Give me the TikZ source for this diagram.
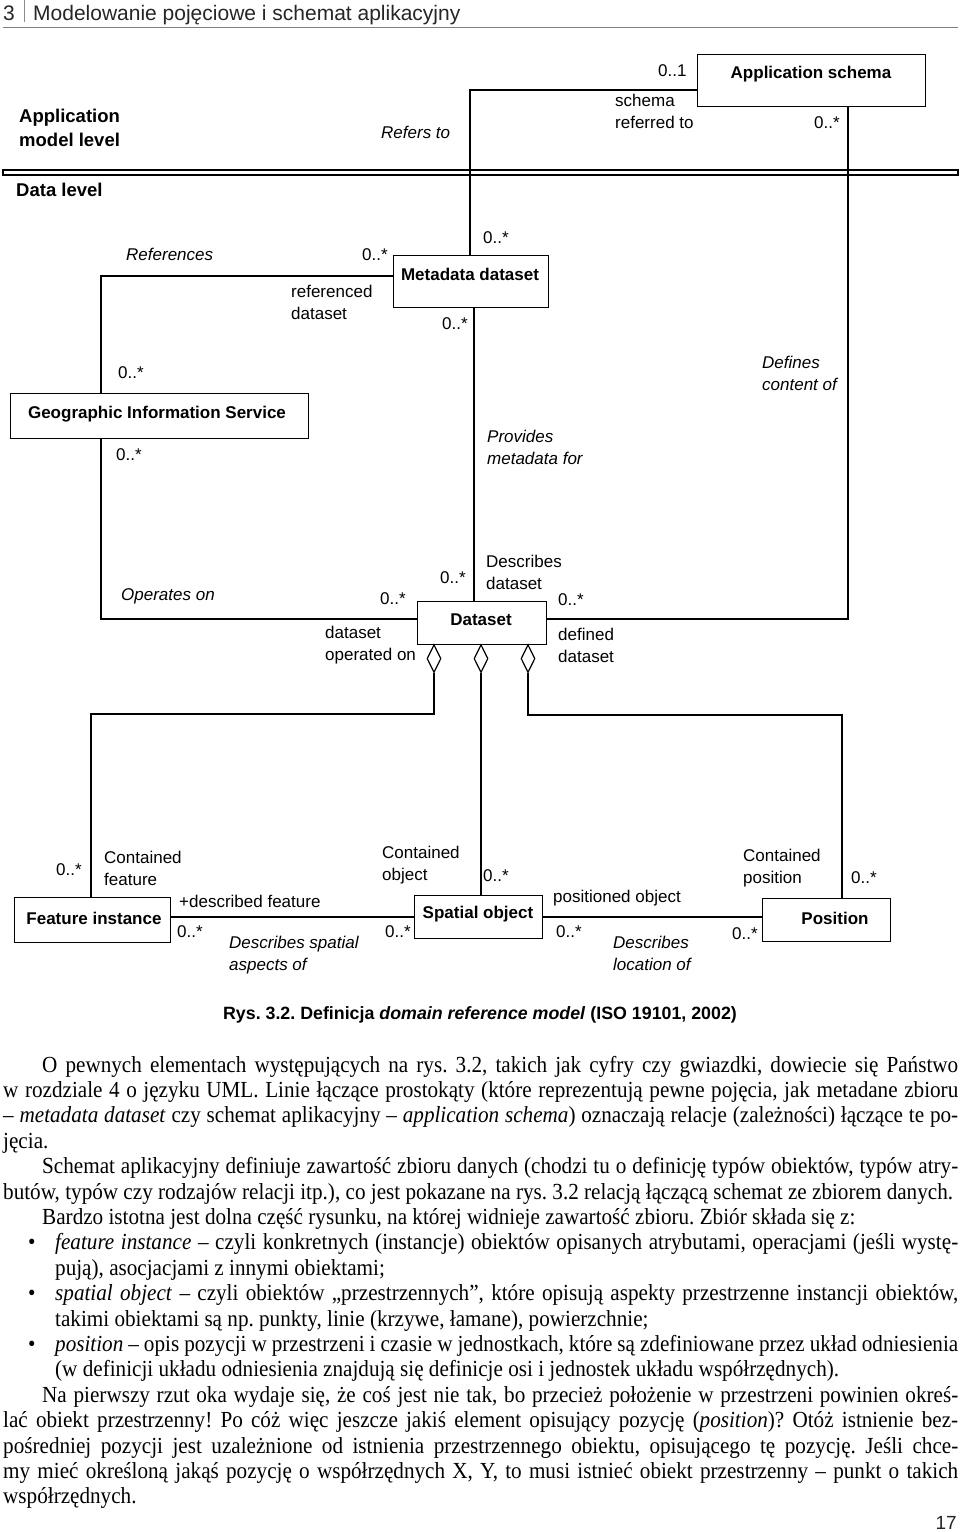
\documentclass[tikz,border=0pt]{standalone}
\usepackage{fontspec}
\setmainfont{Liberation Serif}
\newfontfamily\sansf{Liberation Sans}
\newfontfamily\bodyfont[FakeStretch=0.92]{Liberation Serif}
\newfontfamily\capfont{Liberation Sans}
\usetikzlibrary{shapes.geometric}
\frenchspacing
\begin{document}
\begin{tikzpicture}[x=1pt,y=-1pt,
  box/.style={draw, line width=1.2pt, inner sep=0pt, anchor=north west},
  cls/.style={font=\sansf\bfseries\fontsize{17}{20}\selectfont, inner sep=0pt},
  lvl/.style={font=\sansf\bfseries\fontsize{18.5}{24}\selectfont, inner sep=0pt, anchor=west, align=left},
  lbl/.style={font=\sansf\fontsize{17}{22}\selectfont, inner sep=0pt, anchor=west, align=left},
  ilbl/.style={font=\sansf\itshape\fontsize{17}{22}\selectfont, inner sep=0pt, anchor=west, align=left},
  conn/.style={line width=1.2pt},
  agg/.style={draw, line width=1.2pt, fill=white, diamond, inner sep=0pt, minimum width=14pt, minimum height=28pt, anchor=north},
  body/.style={font=\bodyfont\fontsize{23}{25}\selectfont, inner sep=0pt, anchor=base west}
]
\useasboundingbox (0,0) rectangle (960,1532);
\fill[white] (0,0) rectangle (960,1532);

% header
\node[font=\sansf\fontsize{21}{24}\selectfont, inner sep=0pt, anchor=base west, text=black!85] (hnum) at (3,20) {3};
\draw[black!45, line width=0.8pt] (24,0) -- (24,22);
\node[font=\sansf\fontsize{21}{24}\selectfont, inner sep=0pt, anchor=base west, text=black!85] (htitle) at (33,20) {Modelowanie pojęciowe i schemat aplikacyjny};
\draw[black!50, line width=0.9pt] (3,27.5) -- (958,27.5);

% level separator
\draw[line width=1.1pt] (3,170) rectangle (958,175);
\node[lvl] (aml) at (19,128) {Application\\model level};
\node[lvl] (dl) at (16,190) {Data level};

% boxes
\node[box, minimum width=228pt, minimum height=52pt] (as) at (697,54) {};
\node[cls] (ast) at (811,74) {Application schema};
\node[box, minimum width=155pt, minimum height=52pt] (md) at (393,255) {};
\node[cls] (mdt) at (470,274) {Metadata dataset};
\node[box, minimum width=298pt, minimum height=45pt] (gis) at (10,393) {};
\node[cls] (gist) at (157,414) {Geographic Information Service};
\node[box, minimum width=129pt, minimum height=43pt] (ds) at (417,601) {};
\node[cls] (dst) at (481,620) {Dataset};
\node[box, minimum width=156pt, minimum height=45pt] (fi) at (14,897) {};
\node[cls] (fit) at (94,918) {Feature instance};
\node[box, minimum width=128pt, minimum height=43pt] (so) at (414,895) {};
\node[cls] (sot) at (478,914) {Spatial object};
\node[box, minimum width=128pt, minimum height=43pt] (po) at (762,898) {};
\node[cls] (pot) at (835,918) {Position};

% aggregation diamonds
\node[agg] (d1) at (434,644) {};
\node[agg] (d2) at (481,644) {};
\node[agg] (d3) at (528,644) {};

% connector coordinates
\coordinate (r1) at (470,90);
\coordinate (r2) at (101,276);
\coordinate (r3) at (101,619);
\coordinate (r4) at (474,300);
\coordinate (r5) at (848,619);
\coordinate (r6) at (91,714);
\coordinate (r7) at (842,715);
\coordinate (r8) at (300,917);

% connectors
\draw[conn] (md.north -| r1) -- (r1) -- (as.west |- r1);
\draw[conn] (md.west |- r2) -- (r2) -- (gis.north -| r2);
\draw[conn] (gis.south -| r3) -- (r3) -- (ds.west |- r3);
\draw[conn] (md.south -| r4) -- (ds.north -| r4);
\draw[conn] (ds.east |- r5) -- (r5) -- (as.south -| r5);
\draw[conn] (d1.south) -- (d1.south |- r6) -- (r6) -- (fi.north -| r6);
\draw[conn] (d2.south) -- (so.north -| d2.south);
\draw[conn] (d3.south) -- (d3.south |- r7) -- (r7) -- (po.north -| r7);
\draw[conn] (fi.east |- r8) -- (so.west |- r8);
\draw[conn] (so.east |- r8) -- (po.west |- r8);

% labels
\node[ilbl] (l1) at (381,132) {Refers to};
\node[lbl] (l2) at (658,71) {0..1};
\node[lbl] (l3) at (615,111) {schema\\referred to};
\node[lbl] (l4) at (814,123) {0..*};
\node[ilbl] (l5) at (762,373) {Defines\\content of};
\node[ilbl] (l6) at (126,254) {References};
\node[lbl] (l7) at (362,255) {0..*};
\node[lbl] (l8) at (291,302) {referenced\\dataset};
\node[lbl] (l9) at (483,238) {0..*};
\node[lbl] (l10) at (442,324) {0..*};
\node[lbl] (l11) at (118,373) {0..*};
\node[lbl] (l12) at (116,455) {0..*};
\node[ilbl] (l13) at (487,447) {Provides\\metadata for};
\node[ilbl] (l14) at (121,596) {Operates on};
\node[lbl] (l15) at (380,599) {0..*};
\node[lbl] (l16) at (325,645) {dataset\\operated on};
\node[lbl] (l17) at (440,578) {0..*};
\node[lbl] (l18) at (486,572) {Describes\\dataset};
\node[lbl] (l19) at (558,600) {0..*};
\node[lbl] (l20) at (558,645) {defined\\dataset};
\node[lbl] (l21) at (56,870) {0..*};
\node[lbl] (l22) at (104,868) {Contained\\feature};
\node[lbl] (l23) at (179,901) {+described feature};
\node[lbl] (l24) at (177,932) {0..*};
\node[ilbl] (l25) at (229,955) {Describes spatial\\aspects of};
\node[lbl] (l26) at (385,932) {0..*};
\node[lbl] (l27) at (382,865) {Contained\\object};
\node[lbl] (l28) at (483,876) {0..*};
\node[lbl] (l29) at (553,898) {positioned object};
\node[lbl] (l30) at (556,932) {0..*};
\node[ilbl] (l31) at (613,953) {Describes\\location of};
\node[lbl] (l32) at (732,934) {0..*};
\node[lbl] (l33) at (743,868) {Contained\\position};
\node[lbl] (l34) at (851,878) {0..*};

% caption
\node[font=\capfont\bfseries\fontsize{17.8}{20}\selectfont, inner sep=0pt] (cap) at (480,1015) {Rys. 3.2. Definicja \textit{domain reference model} (ISO 19101, 2002)};

% body text
\node[body] (t1) at (42,1072) {\makebox[916pt][s]{O pewnych elementach występujących na rys. 3.2, takich jak cyfry czy gwiazdki, dowiecie się Państwo}};
\node[body] (t2) at (3,1097.4) {\makebox[955pt][s]{w rozdziale 4 o języku UML. Linie łączące prostokąty (które reprezentują pewne pojęcia, jak metadane zbioru}};
\node[body] (t3) at (3,1122.8) {\makebox[955pt][s]{– \textit{metadata dataset} czy schemat aplikacyjny – \textit{application schema}) oznaczają relacje (zależności) łączące te po-}};
\node[body] (t4) at (3,1148.2) {jęcia.};
\node[body] (t5) at (42,1173.6) {\makebox[916pt][s]{Schemat aplikacyjny definiuje zawartość zbioru danych (chodzi tu o definicję typów obiektów, typów atry-}};
\node[body] (t6) at (3,1199) {butów, typów czy rodzajów relacji itp.), co jest pokazane na rys. 3.2 relacją łączącą schemat ze zbiorem danych.};
\node[body] (t7) at (42,1224.4) {Bardzo istotna jest dolna część rysunku, na której widnieje zawartość zbioru. Zbiór składa się z:};
\node[body] (b1) at (28,1249.8) {•};
\node[body] (t8) at (55,1249.8) {\makebox[903pt][s]{\textit{feature instance} – czyli konkretnych (instancje) obiektów opisanych atrybutami, operacjami (jeśli wystę-}};
\node[body] (t9) at (55,1275.2) {pują), asocjacjami z innymi obiektami;};
\node[body] (b2) at (28,1300.6) {•};
\node[body] (t10) at (55,1300.6) {\makebox[903pt][s]{\textit{spatial object} – czyli obiektów „przestrzennych”, które opisują aspekty przestrzenne instancji obiektów,}};
\node[body] (t11) at (55,1326) {takimi obiektami są np. punkty, linie (krzywe, łamane), powierzchnie;};
\node[body] (b3) at (28,1351.4) {•};
\node[body] (t12) at (55,1351.4) {\makebox[903pt][s]{\textit{position} – opis pozycji w przestrzeni i czasie w jednostkach, które są zdefiniowane przez układ odniesienia}};
\node[body] (t13) at (55,1376.8) {(w definicji układu odniesienia znajdują się definicje osi i jednostek układu współrzędnych).};
\node[body] (t14) at (42,1402.2) {\makebox[916pt][s]{Na pierwszy rzut oka wydaje się, że coś jest nie tak, bo przecież położenie w przestrzeni powinien okreś-}};
\node[body] (t15) at (3,1427.6) {\makebox[955pt][s]{lać obiekt przestrzenny! Po cóż więc jeszcze jakiś element opisujący pozycję (\textit{position})? Otóż istnienie bez-}};
\node[body] (t16) at (3,1453) {\makebox[955pt][s]{pośredniej pozycji jest uzależnione od istnienia przestrzennego obiektu, opisującego tę pozycję. Jeśli chce-}};
\node[body] (t17) at (3,1478.4) {\makebox[955pt][s]{my mieć określoną jakąś pozycję o współrzędnych X, Y, to musi istnieć obiekt przestrzenny – punkt o takich}};
\node[body] (t18) at (3,1503.8) {współrzędnych.};

% page number
\node[font=\sansf\fontsize{19}{21}\selectfont, inner sep=0pt, anchor=base east, text=black!85] (pnum) at (957,1529) {17};
\end{tikzpicture}
\end{document}
